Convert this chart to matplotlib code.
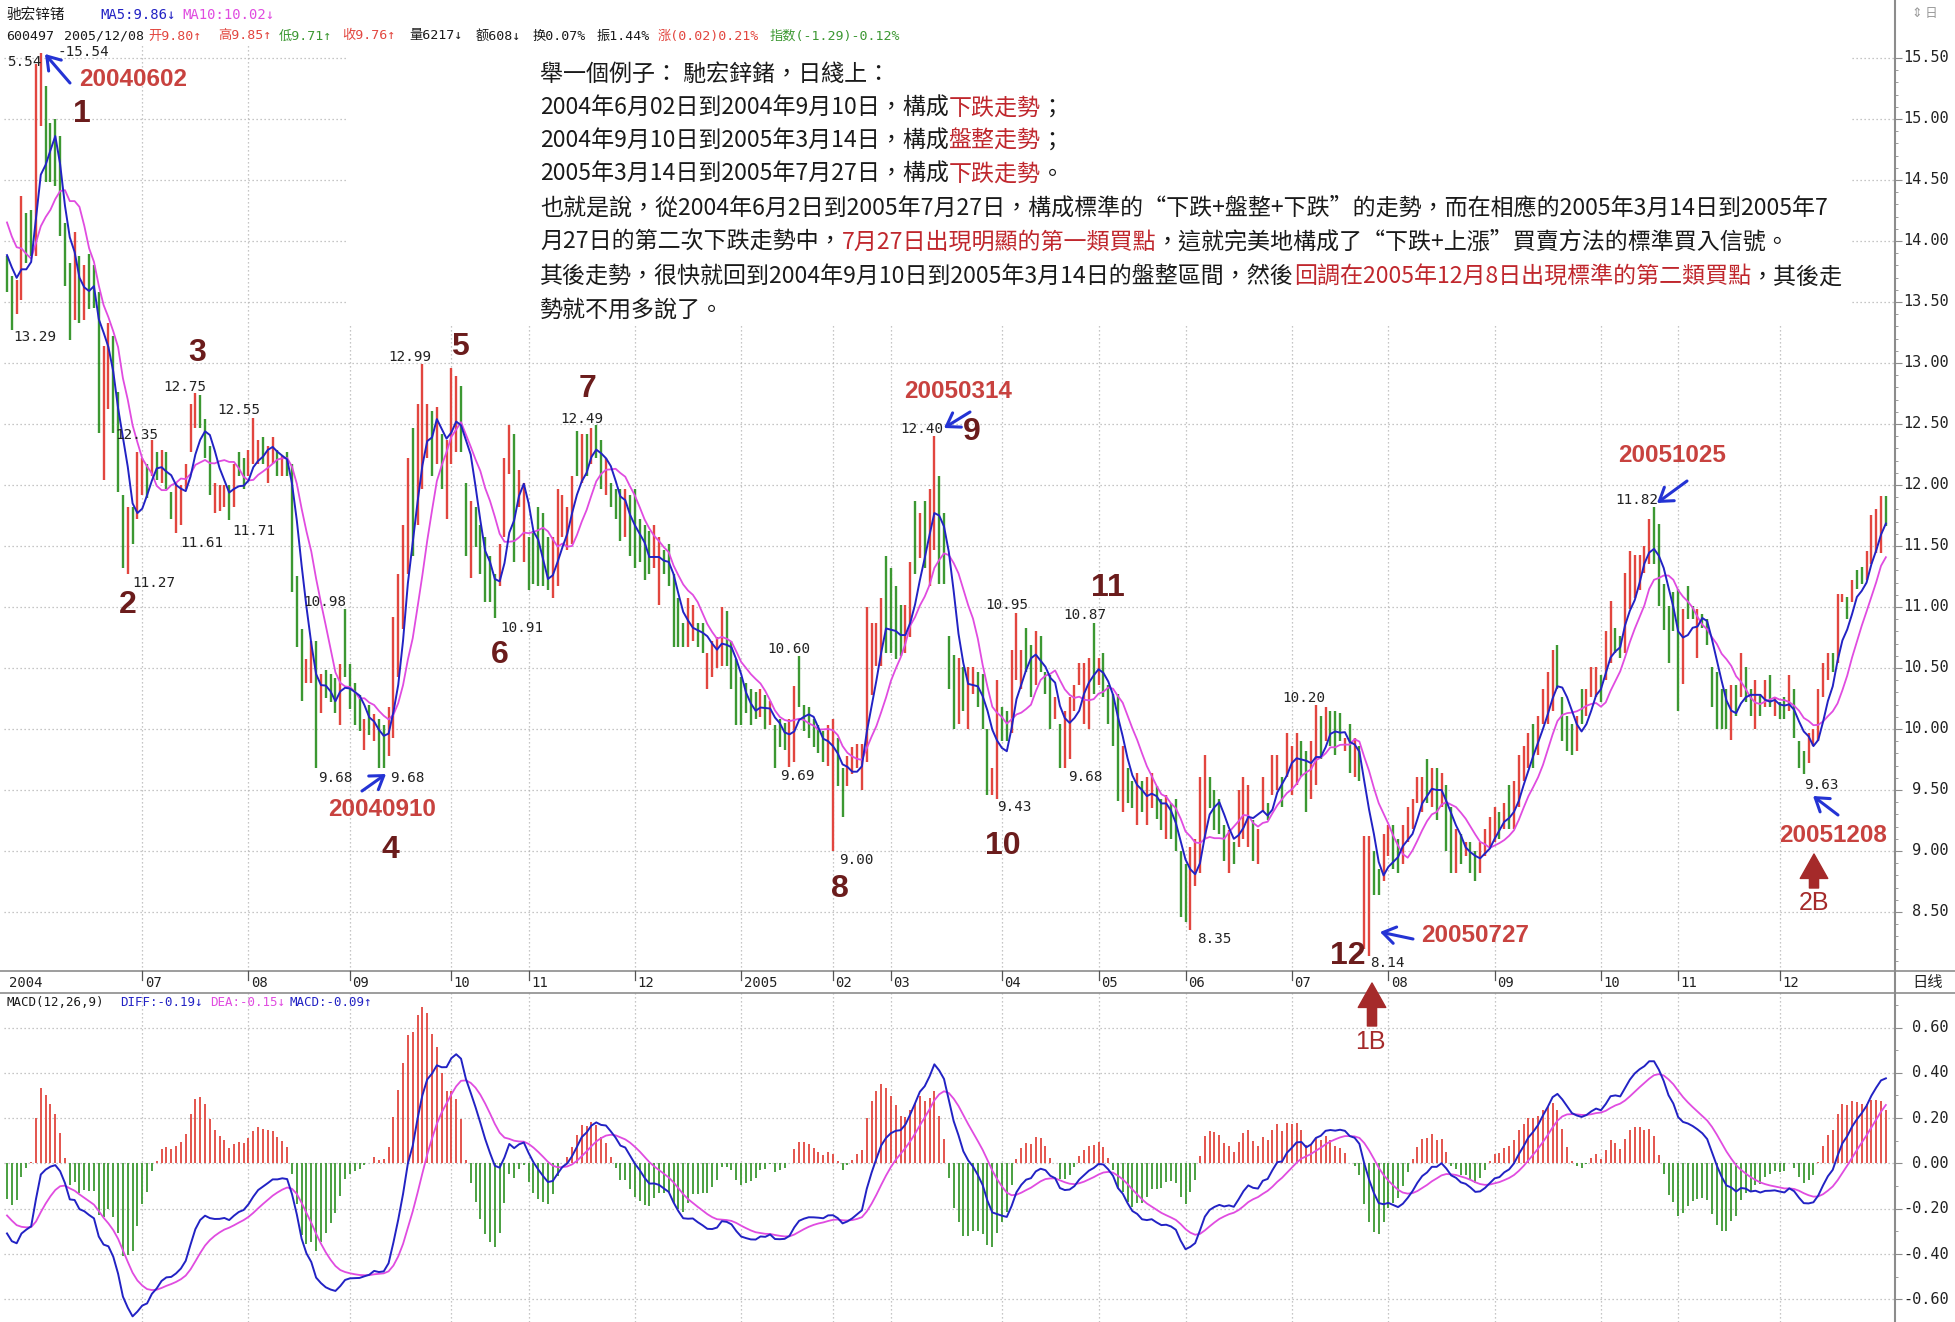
import numpy as np
import pandas as pd
import matplotlib
matplotlib.use("Agg")
import matplotlib.pyplot as plt
from matplotlib import transforms
from matplotlib.lines import Line2D
from matplotlib.patches import Rectangle, FancyArrowPatch

# ------------------------------------------------------------
# 600497 daily bars, 2004-05-24 .. 2005-12-30
# ------------------------------------------------------------
hi = [13.88, 13.71, 13.68, 14.37, 14.23, 14.25, 15.45, 15.54, 15.27, 14.97,
      15.00, 14.86, 14.15, 13.82, 14.07, 13.88, 13.80, 13.89, 13.80, 13.58,
      13.14, 13.33, 13.22, 12.76, 11.92, 11.82, 11.82, 12.27, 12.22, 12.17,
      12.37, 12.27, 12.29, 12.27, 11.94, 12.02, 12.00, 12.17, 12.66, 12.75,
      12.74, 12.54, 12.32, 12.02, 12.00, 12.00, 12.00, 12.17, 12.27, 12.22,
      12.29, 12.55, 12.37, 12.39, 12.32, 12.39, 12.29, 12.24, 12.27, 12.17,
      11.25, 10.82, 10.57, 10.72, 10.72, 10.45, 10.48, 10.45, 10.42, 10.53,
      10.98, 10.53, 10.38, 10.28, 10.08, 10.20, 10.12, 10.08, 10.03, 10.18,
      10.92, 11.27, 11.67, 12.22, 12.47, 12.66, 12.99, 12.66, 12.61, 12.64,
      12.42, 12.37, 12.96, 12.89, 12.81, 12.02, 11.87, 11.82, 11.67, 11.57,
      11.42, 11.27, 11.52, 12.22, 12.49, 12.42, 12.12, 12.02, 11.57, 11.62,
      11.82, 11.77, 11.57, 11.57, 11.97, 11.92, 11.82, 12.07, 12.44, 12.42,
      12.42, 12.47, 12.49, 12.37, 12.22, 12.02, 11.97, 11.97, 11.97, 11.92,
      11.97, 11.72, 11.67, 11.62, 11.67, 11.57, 11.47, 11.52, 11.27, 11.07,
      10.87, 11.07, 11.02, 10.87, 10.87, 10.62, 10.72, 10.75, 11.00, 10.97,
      10.72, 10.57, 10.43, 10.38, 10.33, 10.30, 10.33, 10.28, 10.23, 10.03,
      10.08, 10.05, 10.08, 10.35, 10.60, 10.20, 10.18, 10.08, 10.03, 9.98,
      10.03, 10.08, 9.93, 9.68, 9.78, 9.85, 9.88, 9.88, 11.00, 10.87,
      10.87, 11.07, 11.42, 11.32, 11.17, 11.02, 11.02, 11.37, 11.87, 11.77,
      11.87, 11.97, 12.40, 12.07, 11.77, 10.76, 10.61, 10.58, 10.51, 10.51,
      10.51, 10.47, 10.45, 10.00, 9.68, 10.40, 10.18, 10.15, 10.65, 10.95,
      10.65, 10.83, 10.69, 10.80, 10.76, 10.47, 10.44, 10.26, 10.04, 10.15,
      10.26, 10.36, 10.54, 10.54, 10.58, 10.87, 10.58, 10.62, 10.36, 10.29,
      10.29, 9.86, 9.68, 9.57, 9.64, 9.57, 9.61, 9.64, 9.53, 9.43,
      9.46, 9.39, 9.43, 9.00, 8.89, 9.03, 9.10, 9.61, 9.79, 9.61,
      9.50, 9.43, 9.21, 9.17, 9.07, 9.50, 9.61, 9.54, 9.25, 9.18,
      9.61, 9.39, 9.79, 9.79, 9.61, 9.97, 9.86, 9.97, 9.90, 9.82,
      9.90, 10.20, 10.11, 10.18, 10.15, 10.15, 10.13, 9.93, 10.04, 9.93,
      9.86, 9.12, 9.12, 9.00, 8.85, 9.14, 9.21, 9.21, 9.10, 9.21,
      9.36, 9.43, 9.61, 9.61, 9.75, 9.68, 9.68, 9.64, 9.54, 9.36,
      9.18, 9.14, 9.07, 9.07, 9.00, 9.07, 9.18, 9.28, 9.36, 9.32,
      9.39, 9.54, 9.57, 9.79, 9.86, 9.97, 10.04, 10.11, 10.33, 10.47,
      10.65, 10.69, 10.26, 10.11, 10.04, 10.11, 10.33, 10.33, 10.51, 10.51,
      10.44, 10.80, 11.05, 10.83, 10.76, 11.28, 11.46, 11.43, 11.43, 11.50,
      11.72, 11.82, 11.68, 11.19, 11.01, 11.12, 11.15, 10.98, 11.17, 11.01,
      10.98, 10.94, 10.90, 10.51, 10.47, 10.33, 10.33, 10.36, 10.36, 10.62,
      10.51, 10.33, 10.40, 10.29, 10.40, 10.44, 10.26, 10.22, 10.26, 10.44,
      10.33, 9.90, 9.82, 9.97, 10.00, 10.33, 10.54, 10.62, 10.62, 11.11,
      11.11, 11.08, 11.22, 11.30, 11.33, 11.46, 11.75, 11.80, 11.91, 11.91]

lo = [13.58, 13.27, 13.40, 13.52, 13.82, 13.88, 13.88, 14.94, 14.48, 14.48,
      14.45, 14.04, 13.63, 13.19, 13.35, 13.33, 13.35, 13.44, 13.45, 12.43,
      12.04, 12.62, 12.43, 11.94, 11.32, 11.27, 11.52, 11.72, 11.92, 11.89,
      12.07, 12.04, 12.02, 11.97, 11.72, 11.61, 11.67, 11.97, 12.27, 12.47,
      12.47, 12.22, 11.92, 11.77, 11.79, 11.82, 11.71, 11.82, 12.07, 11.97,
      12.07, 12.17, 12.17, 12.17, 12.02, 12.17, 12.07, 12.07, 12.07, 11.12,
      10.67, 10.23, 10.38, 10.38, 9.68, 10.13, 10.25, 10.22, 10.13, 10.03,
      10.43, 10.16, 10.03, 9.98, 9.83, 9.95, 9.90, 9.68, 9.68, 9.78,
      9.93, 10.43, 10.82, 11.27, 11.42, 11.67, 11.97, 12.22, 12.07, 12.17,
      11.97, 11.72, 12.17, 12.27, 12.27, 11.42, 11.24, 11.49, 11.27, 11.04,
      11.04, 10.91, 11.17, 11.57, 12.09, 11.37, 11.82, 11.37, 11.14, 11.19,
      11.17, 11.17, 11.14, 11.07, 11.17, 11.57, 11.47, 11.52, 12.07, 12.02,
      12.07, 12.17, 12.22, 11.97, 11.92, 11.82, 11.72, 11.54, 11.57, 11.42,
      11.32, 11.37, 11.22, 11.27, 11.32, 11.02, 11.27, 11.17, 10.67, 10.67,
      10.67, 10.67, 10.72, 10.67, 10.62, 10.33, 10.43, 10.50, 10.52, 10.52,
      10.33, 10.03, 10.03, 10.13, 10.03, 10.08, 10.10, 10.00, 10.03, 9.68,
      9.85, 9.83, 9.69, 9.73, 10.18, 9.98, 9.93, 9.85, 9.80, 9.73,
      9.70, 9.00, 9.53, 9.28, 9.53, 9.63, 9.68, 9.50, 9.73, 10.28,
      10.52, 10.52, 10.62, 10.62, 10.57, 10.60, 10.62, 10.75, 11.27, 11.40,
      11.32, 11.17, 11.47, 11.19, 11.19, 10.33, 10.00, 10.04, 10.15, 10.00,
      10.29, 10.18, 10.00, 9.46, 9.46, 9.43, 9.90, 9.90, 9.97, 10.40,
      10.33, 10.47, 10.26, 10.36, 10.47, 10.29, 10.00, 10.08, 9.68, 9.68,
      9.75, 10.15, 10.36, 10.04, 10.00, 10.29, 10.36, 10.26, 10.04, 9.86,
      9.41, 9.32, 9.39, 9.35, 9.21, 9.32, 9.21, 9.35, 9.26, 9.17,
      9.10, 9.10, 9.00, 8.46, 8.42, 8.35, 8.71, 8.82, 9.10, 9.35,
      9.17, 9.14, 8.92, 8.82, 8.89, 9.03, 9.10, 9.03, 8.92, 8.89,
      9.32, 9.25, 9.46, 9.50, 9.36, 9.61, 9.46, 9.54, 9.61, 9.32,
      9.43, 9.54, 9.75, 9.90, 9.86, 9.79, 9.90, 9.82, 9.64, 9.61,
      9.57, 8.20, 8.14, 8.64, 8.64, 8.75, 8.96, 8.85, 8.82, 8.89,
      9.07, 9.18, 9.39, 9.32, 9.39, 9.36, 9.25, 9.36, 9.00, 8.82,
      8.82, 8.89, 8.96, 8.82, 8.75, 8.82, 8.96, 9.03, 9.07, 9.10,
      9.18, 9.18, 9.18, 9.36, 9.57, 9.68, 9.68, 9.79, 10.04, 10.04,
      10.15, 10.33, 9.90, 9.82, 9.79, 9.82, 10.04, 10.11, 10.26, 10.26,
      10.22, 10.40, 10.54, 10.62, 10.58, 10.62, 10.98, 11.07, 11.14, 11.28,
      11.35, 11.35, 11.01, 10.81, 10.54, 10.80, 10.15, 10.37, 10.90, 10.90,
      10.58, 10.83, 10.69, 10.18, 10.00, 10.00, 10.00, 9.91, 10.11, 10.26,
      10.22, 10.11, 10.00, 10.11, 10.18, 10.18, 10.11, 10.08, 10.08, 10.15,
      9.93, 9.68, 9.63, 9.72, 9.86, 9.90, 10.26, 10.40, 10.47, 10.54,
      11.04, 10.90, 11.04, 11.15, 11.19, 11.22, 11.35, 11.44, 11.44, 11.66]

close = [13.62, 13.45, 13.62, 14.20, 13.95, 13.92, 15.25, 15.40, 14.60, 14.55,
         14.50, 14.10, 13.70, 13.30, 13.95, 13.45, 13.70, 13.55, 13.50, 12.60,
         12.90, 13.10, 12.55, 12.00, 11.40, 11.70, 11.60, 12.15, 12.18, 11.95,
         12.30, 12.10, 12.20, 12.00, 11.80, 11.90, 11.95, 12.10, 12.60, 12.70,
         12.50, 12.30, 11.95, 11.97, 11.98, 11.99, 11.80, 12.10, 12.08, 12.00,
         12.20, 12.35, 12.36, 12.25, 12.28, 12.32, 12.15, 12.20, 12.10, 11.30,
         10.80, 10.30, 10.50, 10.60, 10.05, 10.35, 10.28, 10.26, 10.20, 10.45,
         10.50, 10.25, 10.12, 10.05, 10.06, 10.00, 10.08, 9.78, 9.80, 10.15,
         10.88, 11.20, 11.60, 12.15, 11.80, 12.55, 12.70, 12.60, 12.30, 12.55,
         12.15, 12.30, 12.85, 12.75, 12.40, 11.55, 11.70, 11.55, 11.35, 11.15,
         11.10, 11.00, 11.45, 12.10, 12.40, 11.60, 12.00, 11.95, 11.30, 11.25,
         11.25, 11.20, 11.15, 11.45, 11.80, 11.85, 11.75, 12.00, 12.20, 12.35,
         12.20, 12.40, 12.30, 12.05, 12.15, 11.88, 11.80, 11.65, 11.90, 11.55,
         11.45, 11.45, 11.30, 11.30, 11.55, 11.45, 11.30, 11.25, 10.80, 10.75,
         10.70, 10.95, 10.95, 10.70, 10.65, 10.55, 10.65, 10.70, 10.95, 10.60,
         10.45, 10.15, 10.10, 10.20, 10.15, 10.15, 10.28, 10.08, 10.18, 9.78,
         9.92, 9.90, 10.00, 10.30, 10.25, 10.05, 10.00, 9.90, 9.85, 9.80,
         9.95, 9.80, 9.60, 9.40, 9.70, 9.75, 9.80, 9.82, 10.80, 10.75,
         10.82, 10.95, 10.80, 10.75, 10.70, 10.65, 10.95, 11.30, 11.50, 11.70,
         11.55, 11.90, 12.20, 11.40, 11.25, 10.50, 10.30, 10.45, 10.20, 10.40,
         10.45, 10.25, 10.05, 9.60, 9.62, 10.00, 9.95, 9.92, 10.55, 10.80,
         10.60, 10.55, 10.40, 10.70, 10.55, 10.35, 10.10, 10.20, 9.75, 10.05,
         10.15, 10.30, 10.50, 10.45, 10.50, 10.45, 10.55, 10.35, 10.10, 9.95,
         9.55, 9.75, 9.45, 9.40, 9.55, 9.35, 9.50, 9.55, 9.30, 9.25,
         9.35, 9.20, 9.05, 8.55, 8.50, 8.95, 9.00, 9.50, 9.65, 9.40,
         9.25, 9.20, 9.00, 9.10, 8.95, 9.40, 9.50, 9.45, 9.05, 9.10,
         9.55, 9.30, 9.70, 9.75, 9.45, 9.90, 9.80, 9.90, 9.70, 9.40,
         9.80, 10.05, 9.90, 10.10, 9.95, 9.90, 10.00, 9.92, 9.70, 9.85,
         9.60, 8.80, 8.75, 8.70, 8.70, 9.05, 9.15, 8.95, 8.90, 9.15,
         9.30, 9.40, 9.55, 9.55, 9.45, 9.60, 9.35, 9.55, 9.10, 8.95,
         9.10, 8.95, 9.05, 8.90, 8.80, 9.00, 9.15, 9.25, 9.30, 9.15,
         9.35, 9.30, 9.50, 9.75, 9.80, 9.95, 9.90, 10.05, 10.30, 10.40,
         10.60, 10.40, 10.00, 9.90, 9.85, 10.05, 10.10, 10.30, 10.45, 10.48,
         10.30, 10.75, 10.95, 10.70, 10.65, 11.20, 11.35, 11.38, 11.40, 11.45,
         11.65, 11.50, 11.10, 10.90, 10.65, 10.85, 10.50, 10.85, 11.00, 10.95,
         10.90, 10.85, 10.72, 10.25, 10.10, 10.05, 10.05, 10.30, 10.15, 10.50,
         10.30, 10.15, 10.30, 10.15, 10.30, 10.22, 10.22, 10.12, 10.10, 10.35,
         10.00, 9.75, 9.70, 9.90, 9.95, 10.25, 10.50, 10.55, 10.50, 11.00,
         11.08, 10.95, 11.18, 11.20, 11.25, 11.42, 11.70, 11.75, 11.85, 11.70]

# r = candle closed above its open, g = below
updn = ("ggrrggrrgg" "ggggrgrggg" "rrgggrgrrg" "rgrggrrrrr" "gggrrrgrgg"
        "rrrgrrgrgg" "ggrrgrgggr" "ggggrgrggr" "rrrrgrrrgr" "grrrggrggg"
        "ggrrrgrrgg" "gggrrrrrgr" "grggrgggrg" "ggggrrgggg" "grrggrrrrg"
        "ggggggrgrg" "ggrrgggggg" "rrggrrrrrr" "rrggggrrgr" "grrggggrgr"
        "rgggrrggrr" "rggrgggrgr" "rrrrrgrggg" "grggrgrrgg" "rggggrrrrg"
        "gggrgrrrgr" "rgrrgrrrgg" "rrgrgggrgr" "grrggrrggr" "rrrrgrgrgg"
        "rgrggrrrrg" "rgrrrrgrrr" "rggggrgrrr" "grrggrrrrr" "rggggggrgg"
        "rggggggrgr" "ggrgrgrggr" "gggrrrrrgr" "rgrggrrrrg")

# closes just before the window (for the MA / MACD warm-up)
warm_close = [15.10, 15.30, 15.00, 14.90, 15.00, 14.80, 14.70, 14.75, 14.60, 14.50,
              14.55, 14.60, 14.50, 14.30, 14.40, 14.30, 13.95, 14.05, 13.85, 13.95]

month_len = [28, 22, 21, 21, 16, 22, 22, 19, 12, 23, 20, 18, 22, 20, 22, 22, 16, 21, 23]
month_lab = ['2004', '07', '08', '09', '10', '11', '12', '2005', '02', '03',
             '04', '05', '06', '07', '08', '09', '10', '11', '12']

price_ticks = [8.5, 9.0, 9.5, 10.0, 10.5, 11.0, 11.5, 12.0, 12.5, 13.0, 13.5, 14.0, 14.5, 15.0, 15.5]
macd_ticks = [-0.6, -0.4, -0.2, 0.0, 0.2, 0.4, 0.6]

# text of the annotations
wave_nums = [('1', 82, 114), ('2', 128, 605), ('3', 197, 353), ('4', 390, 850),
             ('5', 460, 347), ('6', 500, 655), ('7', 588, 389), ('8', 840, 889),
             ('9', 972, 432), ('10', 1003, 846), ('11', 1108, 588), ('12', 1348, 956)]
date_tags = [('20040602', 133, 80), ('20040910', 382, 810), ('20050314', 958, 392),
             ('20050727', 1475, 935), ('20051025', 1672, 456), ('20051208', 1833, 835)]
buy_tags = [('1B', 1370, 1042), ('2B', 1814, 903)]
price_tags = [('5.54', 7, 62), ('-15.54', 58, 52), ('13.29', 13, 337), ('12.75', 163, 387),
              ('12.55', 217, 410), ('12.35', 115, 435), ('11.61', 180, 543), ('11.71', 232, 531),
              ('11.27', 132, 583), ('10.98', 303, 602), ('9.68', 318, 778), ('9.68', 390, 778),
              ('12.99', 388, 357), ('10.91', 500, 628), ('12.49', 560, 419), ('10.60', 767, 649),
              ('9.69', 780, 776), ('9.00', 839, 860), ('12.40', 900, 429), ('10.95', 985, 605),
              ('10.87', 1063, 615), ('9.43', 997, 807), ('9.68', 1068, 777), ('8.35', 1197, 939),
              ('10.20', 1282, 698), ('8.14', 1370, 963), ('11.82', 1615, 500), ('9.63', 1804, 785)]
blue_arrows = [((70, 83), (45, 54)), ((362, 791), (386, 774)), ((970, 412), (944, 428)),
               ((1413, 939), (1380, 932)), ((1687, 481), (1657, 503)), ((1838, 815), (1813, 796))]
red_arrows = [((1372, 1026), (1372, 983)), ((1814, 888), (1814, 854))]

K, R = '#1a1a1a', '#c0272d'
body = [
    [("舉一個例子： 馳宏鋅鍺，日綫上：", K)],
    [("2004年6月02日到2004年9月10日，構成", K), ("下跌走勢", R), ("；", K)],
    [("2004年9月10日到2005年3月14日，構成", K), ("盤整走勢", R), ("；", K)],
    [("2005年3月14日到2005年7月27日，構成", K), ("下跌走勢", R), ("。", K)],
    [("也就是說，從2004年6月2日到2005年7月27日，構成標準的“下跌+盤整+下跌”的走勢，而在相應的2005年3月14日到2005年7", K)],
    [("月27日的第二次下跌走勢中，", K), ("7月27日出現明顯的第一類買點", R),
     ("，這就完美地構成了“下跌+上漲”買賣方法的標準買入信號。", K)],
    [("其後走勢，很快就回到2004年9月10日到2005年3月14日的盤整區間，然後", K),
     ("回調在2005年12月8日出現標準的第二類買點", R), ("，其後走", K)],
    [("勢就不用多說了。", K)],
]
body_y = [74, 108, 141, 174, 208, 242, 277, 310]

RED, GREEN = '#e2463f', '#3c9832'
BLUE, MAG = '#2222c4', '#e04ce0'
GRID = '#b4b4b4'
AXC = '#8c8c8c'
MONO = ['DejaVu Sans Mono', 'Noto Sans CJK SC']
TC = ['Noto Sans CJK TC', 'DejaVu Sans']
SC = ['Noto Sans CJK SC', 'DejaVu Sans']

# ------------------------------------------------------------
# indicators
# ------------------------------------------------------------
n = len(close)
idx = np.arange(n)
nw = len(warm_close)
allc = pd.Series(warm_close + close)
ma5 = allc.rolling(5, min_periods=1).mean().values[nw:]
ma10 = allc.rolling(10, min_periods=1).mean().values[nw:]
diff = allc.ewm(span=12, adjust=False).mean() - allc.ewm(span=26, adjust=False).mean()
dea = diff.ewm(span=9, adjust=False).mean()
macd = (2 * (diff - dea)).values[nw:]
diff, dea = diff.values[nw:], dea.values[nw:]
starts = np.cumsum([0] + month_len[:-1])

# ------------------------------------------------------------
# layout (pixel helpers)
# ------------------------------------------------------------
W, H = 1956, 1322
fig = plt.figure(figsize=(W / 100, H / 100), dpi=100)
fig.patch.set_facecolor('white')


def fx(px):
    return px / W


def fy(py):
    return 1 - py / H


def bx(px):
    return (px - 7) / 4.83


X0, X1 = 4, 1895
ax = fig.add_axes([fx(X0), fy(971), (X1 - X0) / W, (971 - 45) / H])
ax.set_xlim(bx(X0), bx(X1))
ax.set_ylim(15.5 - (971 - 58) / 122.0, 15.5 + (58 - 45) / 122.0)

mx = fig.add_axes([fx(X0), 0, (X1 - X0) / W, (1322 - 993) / H])
mx.set_xlim(bx(X0), bx(X1))
mx.set_ylim(-(1322 - 1163.8) / 227.0, (1163.8 - 993) / 227.0)

for a, tk, mn in ((ax, price_ticks, np.arange(8.1, 15.6, 0.1)),
                  (mx, macd_ticks, np.arange(-0.7, 0.71, 0.1))):
    for s in a.spines.values():
        s.set_visible(False)
    a.set_xticks([])
    a.yaxis.tick_right()
    a.set_yticks(tk)
    a.set_yticks(mn, minor=True)
    a.tick_params(axis='y', which='major', length=5, color=AXC, labelright=False)
    a.tick_params(axis='y', which='minor', length=2.5, color=AXC)
    for v in tk:
        a.axhline(v, color=GRID, lw=0.9, ls=(0, (1, 2.2)), zorder=0.5)
    for s in starts[1:]:
        a.axvline(s, color=GRID, lw=0.9, ls=(0, (1, 2.2)), zorder=0.5)
    tr = transforms.blended_transform_factory(fig.transFigure, a.transData)
    for v in tk:
        a.text(fx(1949), v, f'{v:.2f}', transform=tr, ha='right', va='center',
               fontsize=11, family=MONO, color='#222222')

# cover for the pasted text block
fig.add_artist(Rectangle((fx(347), fy(325)), (1850 - 347) / W, (325 - 45) / H,
                         transform=fig.transFigure, facecolor='white', edgecolor='none', zorder=1))

# price bars + MAs
cols = [RED if c == 'r' else GREEN for c in updn]
ax.vlines(idx, lo, hi, colors=cols, lw=1.7, zorder=2)
ax.plot(idx, ma10, color=MAG, lw=1.3, zorder=3)
ax.plot(idx, ma5, color=BLUE, lw=1.4, zorder=4)

# MACD panel
mcols = [RED if v >= 0 else GREEN for v in macd]
mx.vlines(idx, 0, macd, colors=mcols, lw=1.3, zorder=2)
mx.plot(idx, dea, color=MAG, lw=1.3, zorder=3)
mx.plot(idx, diff, color=BLUE, lw=1.4, zorder=4)

# frame lines
for yy in (971, 993):
    fig.add_artist(Line2D([0, 1], [fy(yy), fy(yy)], color=AXC, lw=1.2, transform=fig.transFigure))
fig.add_artist(Line2D([fx(1895), fx(1895)], [0, 1], color=AXC, lw=1.5, transform=fig.transFigure))

# date strip
trs = transforms.blended_transform_factory(ax.transData, fig.transFigure)
for s, lab in zip(starts, month_lab):
    if s > 0:
        fig.add_artist(Line2D([s, s], [fy(971), fy(980)], color='#555555', lw=0.9, transform=trs))
    fig.text(s + 0.5, fy(983), lab, transform=trs, ha='left', va='center',
             fontsize=10, family=MONO, color='#222222')
fig.text(fx(1928), fy(982), '日线', ha='center', va='center', fontsize=11, family=SC, color='#222222')
fig.text(fx(1925), fy(14), '⇕ 日', ha='center', va='center', fontsize=9, family=SC, color='#999999')

# header rows
hdr1 = [("驰宏锌锗", K, 6), ("MA5:9.86↓", BLUE, 100), ("MA10:10.02↓", MAG, 182)]
for s, c, x in hdr1:
    fig.text(fx(x), fy(15), s, ha='left', va='center', fontsize=10 if x > 6 else 10.5,
             family=MONO if x > 6 else SC, color=c)
hdr2 = [("600497", K, 6), ("2005/12/08", K, 64), ("开9.80↑", RED, 148), ("高9.85↑", RED, 218),
        ("低9.71↑", GREEN, 279), ("收9.76↑", RED, 342), ("量6217↓", K, 409), ("额608↓", K, 476),
        ("换0.07%", K, 533), ("振1.44%", K, 597), ("涨(0.02)0.21%", RED, 658),
        ("指数(-1.29)-0.12%", GREEN, 770)]
for s, c, x in hdr2:
    fig.text(fx(x), fy(36), s, ha='left', va='center', fontsize=9.5, family=MONO, color=c)
hdr3 = [("MACD(12,26,9)", K, 7), ("DIFF:-0.19↓", BLUE, 120), ("DEA:-0.15↓", MAG, 210),
        ("MACD:-0.09↑", BLUE, 290)]
for s, c, x in hdr3:
    fig.text(fx(x), fy(1003), s, ha='left', va='center', fontsize=9, family=MONO, color=c)

# pasted explanation text, mixed colours
rend = fig.canvas.get_renderer()
probe = fig.text(0, 0, body[4][0][0], fontsize=14, family=TC, weight='medium')
fs = 14 * 1294 / probe.get_window_extent(renderer=rend).width
probe.remove()
for parts, yy in zip(body, body_y):
    x = 540
    for s, c in parts:
        t = fig.text(fx(x), fy(yy), s, color=c, fontsize=fs, family=TC, weight='medium',
                     ha='left', va='center', zorder=3)
        x += t.get_window_extent(renderer=rend).width

# annotations
for s, x, y in wave_nums:
    fig.text(fx(x), fy(y), s, ha='center', va='center', fontsize=23, weight='bold',
             family='Liberation Sans', color='#6b1c1c')
for s, x, y in date_tags:
    fig.text(fx(x), fy(y), s, ha='center', va='center', fontsize=17.5, weight='bold',
             family='Liberation Sans', color='#c8423f')
for s, x, y in buy_tags:
    fig.text(fx(x), fy(y), s, ha='center', va='center', fontsize=18,
             family='Liberation Sans', color='#a52a2a')
for s, x, y in price_tags:
    fig.text(fx(x), fy(y), s, ha='left', va='center', fontsize=10.3, family=MONO, color='#222222')

for tail, head in blue_arrows:
    fig.add_artist(FancyArrowPatch((fx(tail[0]), fy(tail[1])), (fx(head[0]), fy(head[1])),
                                   transform=fig.transFigure, arrowstyle='->,head_length=0.45,head_width=0.3',
                                   color='#2433d4', lw=2.2, shrinkA=0, shrinkB=0,
                                   mutation_scale=20, zorder=4))
for tail, head in red_arrows:
    fig.add_artist(FancyArrowPatch((fx(tail[0]), fy(tail[1])), (fx(head[0]), fy(head[1])),
                                   transform=fig.transFigure,
                                   arrowstyle='simple,head_length=0.8,head_width=0.9,tail_width=0.3',
                                   color='#a52a2a', shrinkA=0, shrinkB=0,
                                   mutation_scale=22, zorder=4))

fig.savefig('out.png', dpi=100)
